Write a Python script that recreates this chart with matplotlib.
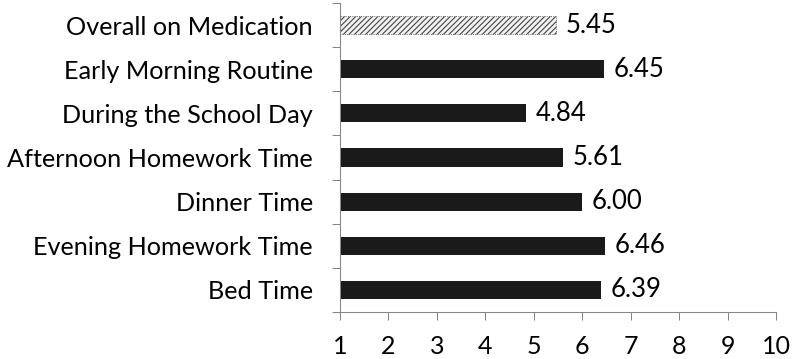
import matplotlib.pyplot as plt

# data, top to bottom as in the chart
labels = ["Overall on Medication", "Early Morning Routine", "During the School Day",
          "Afternoon Homework Time", "Dinner Time", "Evening Homework Time", "Bed Time"]
values = [5.45, 6.45, 4.84, 5.61, 6.00, 6.46, 6.39]
xticks = [1, 2, 3, 4, 5, 6, 7, 8, 9, 10]

plt.rcParams['font.family'] = ['Lato', 'DejaVu Sans']
plt.rcParams['hatch.color'] = '#555555'
plt.rcParams['hatch.linewidth'] = 0.8

fig = plt.figure(figsize=(7.92, 3.59), dpi=100)
ax = fig.add_axes([340 / 792, 1 - 312 / 359, 436 / 792, 309 / 359])

n = len(labels)
ypos = list(range(n - 1, -1, -1))
base = 1
for i, (y, v) in enumerate(zip(ypos, values)):
    if i == 0:
        ax.barh(y, v - base, left=base, height=0.41, color='#f2f2f2',
                hatch='//////', edgecolor='#444444', linewidth=0.6, linestyle=':')
    else:
        ax.barh(y, v - base, left=base, height=0.41, color='#1a1a1a')
    ax.annotate(f"{v:.2f}", (v, y), xytext=(7, 0), textcoords='offset points',
                va='center', ha='left', fontsize=18.5)

ax.set_xlim(1, 10)
ax.set_ylim(-0.5, n - 0.5)
ax.set_xticks(xticks)
ax.set_xticklabels([str(t) for t in xticks], fontsize=18)
ax.set_yticks(ypos)
ax.set_yticklabels(labels, fontsize=18.2)
ax.set_yticks([k + 0.5 for k in range(-1, n)], minor=True)

ax.tick_params(axis='y', which='major', length=0, pad=19.5)
ax.tick_params(axis='y', which='minor', length=6, width=0.75, color='#868686', direction='out')
ax.tick_params(axis='x', length=6, width=0.75, color='#868686', direction='out', pad=10.5)

for s in ['top', 'right']:
    ax.spines[s].set_visible(False)
for s in ['left', 'bottom']:
    ax.spines[s].set_color('#868686')
    ax.spines[s].set_linewidth(0.75)

plt.savefig('out.png', dpi=100)
